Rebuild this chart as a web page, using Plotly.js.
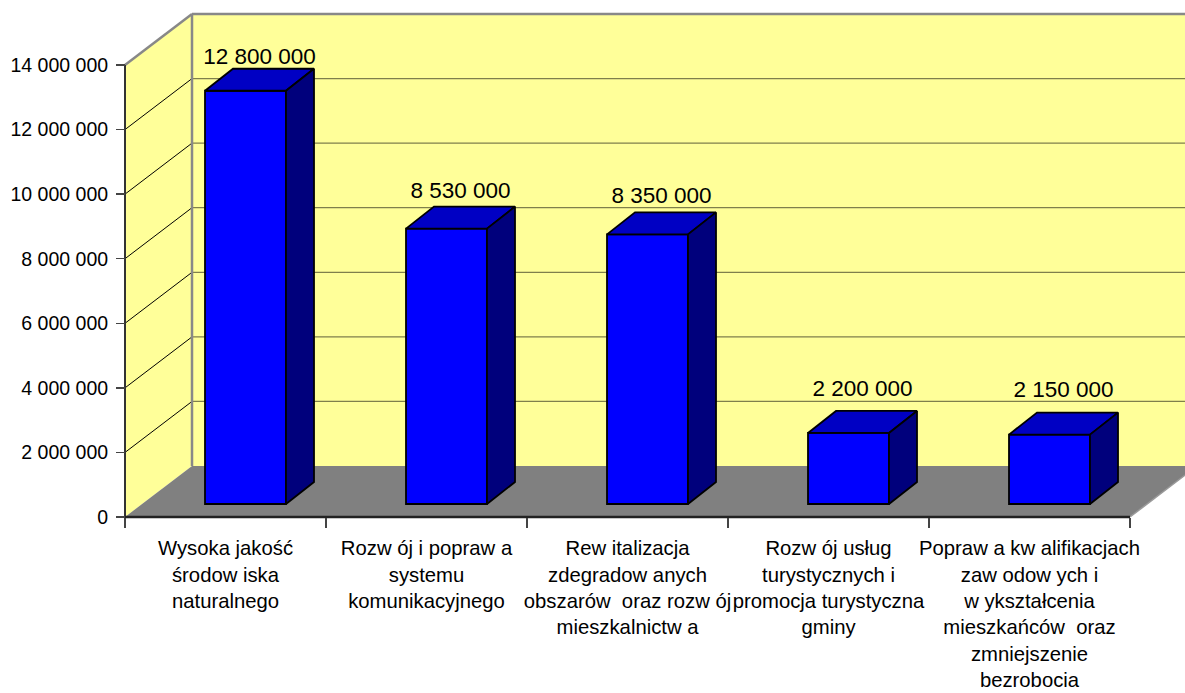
<!DOCTYPE html>
<html>
<head>
<meta charset="utf-8">
<script src="https://cdn.plot.ly/plotly-3.0.1.min.js"></script>
<style>html,body{margin:0;padding:0;background:#fff;}#chart{width:1185px;height:693px;}</style>
</head>
<body>
<div id="chart"></div>
<script>
// ---- data ----
const categories = [
  "Wysoka jakość<br>środow iska<br>naturalnego",
  "Rozw ój i popraw a<br>systemu<br>komunikacyjnego",
  "Rew italizacja<br>zdegradow anych<br>obszarów  oraz rozw ój<br>mieszkalnictw a",
  "Rozw ój usług<br>turystycznych i<br>promocja turystyczna<br>gminy",
  "Popraw a kw alifikacjach<br>zaw odow ych i<br>w ykształcenia<br>mieszkańców  oraz<br>zmniejszenie<br>bezrobocia"
];
const values = [12800000, 8530000, 8350000, 2200000, 2150000];
const yTickVals = [0, 2000000, 4000000, 6000000, 8000000, 10000000, 12000000, 14000000];

// ---- geometry (pixel-based constants) ----
const W = 1185, H = 693;
const PXC = 201;                 // px per category
const axisX = 125, axisY0 = 517, axisYTop = 65;
const yMax = yTickVals[yTickVals.length - 1];
const PY = (axisY0 - axisYTop) / yMax;   // px per value unit
const u = px => px / PXC;
const v = px => px / PY;
const xLo = -0.5 - u(axisX), xHi = xLo + u(W);
const yLo = -v(H - axisY0), yHi = yLo + v(H);
const n = categories.length;
const DX = u(67), DY = v(51);           // wall depth
const barOff = u(80), barW = u(81);     // bar front face
const bar0 = v(13);                     // bar front base (set back into floor)
const bdx = u(28), bdy = v(22);         // bar depth

function fmt(x) { return String(Math.round(x)).replace(/\B(?=(\d{3})+(?!\d))/g, " "); }

const L = -0.5, R = n - 0.5;
function path(pts) { return "M" + pts.map(p => p[0] + "," + p[1]).join("L") + "Z"; }
function line(a, b, color, width) {
  return {type: "line", xref: "x", yref: "y", x0: a[0], y0: a[1], x1: b[0], y1: b[1],
          line: {color: color, width: width}, layer: "below"};
}

const yellow = "#FFFF99";
const shapes = [];
// back wall
shapes.push({type: "path", xref: "x", yref: "y", layer: "below",
  path: path([[L + DX, DY], [L + DX, yMax + DY], [R + DX, yMax + DY], [R + DX, DY]]),
  fillcolor: yellow, line: {width: 0}});
// left wall
shapes.push({type: "path", xref: "x", yref: "y", layer: "below",
  path: path([[L, 0], [L, yMax], [L + DX, yMax + DY], [L + DX, DY]]),
  fillcolor: yellow, line: {width: 0}});
// floor
shapes.push({type: "path", xref: "x", yref: "y", layer: "below",
  path: path([[L, 0], [R, 0], [R + DX, DY], [L + DX, DY]]),
  fillcolor: "#808080", line: {width: 0}});
// gridlines
yTickVals.forEach(t => {
  if (t > 0 && t < yMax) {
    shapes.push(line([L + DX, t + DY], [R + DX, t + DY], "rgba(0,0,0,0.5)", 1.2));
    shapes.push(line([L, t], [L + DX, t + DY], "#000", 1));
  }
});
// wall edges
shapes.push(line([L + DX, yMax + DY], [R + DX, yMax + DY], "#888888", 2.5));
shapes.push(line([L + DX, DY], [L + DX, yMax + DY], "#888888", 2.5));
shapes.push(line([L, yMax], [L + DX, yMax + DY], "#888888", 2.5));
shapes.push(line([R, 0], [R + DX, DY], "#9a9a9a", 1.5));
// front axis lines
shapes.push(line([L, 0], [L, yMax], "#333333", 2));
shapes.push(line([L, 0], [R, 0], "#222222", 2.5));

// ---- bars ----
const centers = values.map((_, i) => i - 0.5 + barOff + barW / 2);
const frontTrace = {
  type: "bar", x: centers, y: values, base: values.map(() => bar0), width: barW,
  marker: {color: "#0000FF", line: {color: "#000", width: 1.8}},
  hoverinfo: "skip", showlegend: false
};
const tx = [], ty = [], sx = [], sy = [];
values.forEach((val, i) => {
  const l = i - 0.5 + barOff, r = l + barW, t = bar0 + val;
  tx.push(l, r, r + bdx, l + bdx, l, null);
  ty.push(t, t, t + bdy, t + bdy, t, null);
  sx.push(r, r, r + bdx, r + bdx, r, null);
  sy.push(bar0, t, t + bdy, bar0 + bdy, bar0, null);
});
const topTrace = {type: "scatter", mode: "lines", x: tx, y: ty, fill: "toself",
  fillcolor: "#0000C4", line: {color: "#000", width: 1.8}, hoverinfo: "skip", showlegend: false};
const sideTrace = {type: "scatter", mode: "lines", x: sx, y: sy, fill: "toself",
  fillcolor: "#00007C", line: {color: "#000", width: 1.8}, hoverinfo: "skip", showlegend: false};
const labelTrace = {type: "scatter", mode: "text",
  x: centers.map(c => c + bdx / 2),
  y: values.map(val => 0.9685 * val + 1800000),
  text: values.map(fmt), textposition: "middle center",
  textfont: {family: "Liberation Sans, Arial, sans-serif", size: 22.5, color: "#000"},
  hoverinfo: "skip", showlegend: false, cliponaxis: false};

const layout = {
  width: W, height: H,
  margin: {l: 0, r: 0, t: 0, b: 0},
  paper_bgcolor: "#ffffff", plot_bgcolor: "rgba(0,0,0,0)",
  font: {family: "Liberation Sans, Arial, sans-serif", color: "#000"},
  showlegend: false,
  xaxis: {
    range: [xLo, xHi], anchor: "free", position: (H - axisY0) / H,
    tickmode: "array", tickvals: categories.map((_, i) => i), ticktext: categories,
    tickangle: 0, automargin: false,
    ticks: "", ticklabelstandoff: 17, tickfont: {size: 20.3, color: "#000"},
    minor: {tickmode: "array", tickvals: Array.from({length: n + 1}, (_, i) => i - 0.5),
            ticks: "outside", ticklen: 10, tickwidth: 1.5, tickcolor: "#444", showgrid: false},
    showgrid: false, zeroline: false, showline: false, fixedrange: true
  },
  yaxis: {
    range: [yLo, yHi], anchor: "free", position: axisX / W, automargin: false,
    tickmode: "array", tickvals: yTickVals, ticktext: yTickVals.map(fmt),
    ticks: "outside", ticklen: 9, tickwidth: 1.5, tickcolor: "#444",
    ticklabelstandoff: 4, tickfont: {size: 19.5, color: "#000"},
    showgrid: false, zeroline: false, showline: false, fixedrange: true
  },
  shapes: shapes,
  bargap: 0
};

Plotly.newPlot("chart", [frontTrace, topTrace, sideTrace, labelTrace], layout, {displayModeBar: false, staticPlot: true});
</script>
</body>
</html>
